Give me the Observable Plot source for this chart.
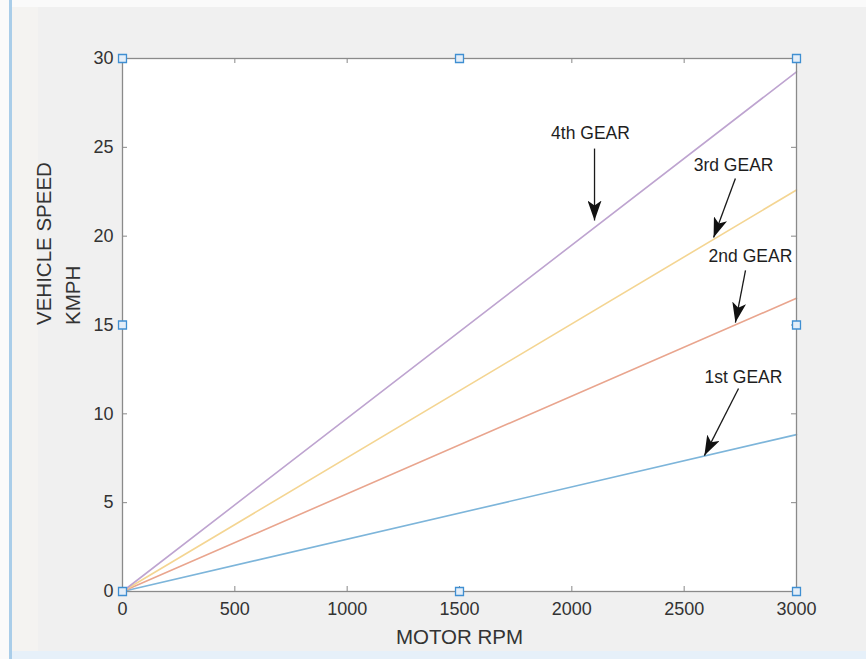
<!DOCTYPE html>
<html><head><meta charset="utf-8">
<script src="https://cdn.jsdelivr.net/npm/d3@7"></script>
<script src="https://cdn.jsdelivr.net/npm/@observablehq/plot@0.6"></script>
<style>
html,body{margin:0;padding:0;background:#fff;}
#wrap{position:relative;width:866px;height:659px;background:#f0f0f0;overflow:hidden;font-family:"Liberation Sans",Arial,sans-serif;}
.deco{position:absolute;}
#chart{position:absolute;left:0;top:0;}
</style></head>
<body>
<div id="wrap">
  <div class="deco" style="left:0;top:0;width:866px;height:7px;background:#fafafa"></div>
  <div class="deco" style="left:0;top:0;width:9px;height:659px;background:#fafafa"></div>
  <div class="deco" style="left:9px;top:0;width:3px;height:659px;background:#a9cde9"></div>
  <div class="deco" style="left:12px;top:7px;width:26px;height:644px;background:#f4f3f1"></div>
  <div class="deco" style="left:12px;top:651px;width:854px;height:8px;background:#e6f0f9"></div>
  <div id="chart"></div>
</div>
<script>
// ---- data ----
const gears = ["1st GEAR", "2nd GEAR", "3rd GEAR", "4th GEAR"];
const rpmRange = [0, 3000];
const speedStart = [0, 0, 0, 0];
const speedAt3000 = [8.83, 16.5, 22.6, 29.25];
const gearColors = ["#7db5da", "#e9a58e", "#f4d592", "#bea4d0"];
const xTicks = [0, 500, 1000, 1500, 2000, 2500, 3000];
const yTicks = [0, 5, 10, 15, 20, 25, 30];
// annotation text & arrows (data coordinates)
const labelX = [2764, 2795, 2720, 2083];
const labelY = [12.04, 18.86, 23.98, 25.78];
const arrowFromX = [2742, 2773, 2728, 2101];
const arrowFromY = [11.43, 18.07, 23.25, 24.93];
const arrowToX = [2590, 2728, 2631, 2101];
const arrowToY = [7.65, 15.14, 19.92, 20.88];
// edit-mode selection handles
const handleX = [0, 1500, 3000, 0, 3000, 0, 1500, 3000];
const handleY = [30, 30, 30, 15, 15, 0, 0, 0];

// ---- tables ----
const lineData = gears.flatMap((g, i) => [
  {gear: g, rpm: rpmRange[0], speed: speedStart[i]},
  {gear: g, rpm: rpmRange[1], speed: speedAt3000[i]}
]);
const ann = gears.map((g, i) => ({
  gear: g, lx: labelX[i], ly: labelY[i],
  x1: arrowFromX[i], y1: arrowFromY[i], x2: arrowToX[i], y2: arrowToY[i]
}));
const handles = handleX.map((x, i) => ({x, y: handleY[i]}));

const W = 866, H = 659, mL = 122, mR = 70, mT = 58, mB = 68;
const plotH = H - mT - mB, plotW = W - mL - mR;
const tickLen = 5;
const txt = "#333";

const svg = Plot.plot({
  width: W, height: H,
  marginLeft: mL, marginRight: mR, marginTop: mT, marginBottom: mB,
  style: {background: "transparent", fontFamily: "'Liberation Sans', Arial, sans-serif", fontSize: "18px", color: txt},
  x: {domain: [0, 3000]},
  y: {domain: [0, 30]},
  color: {domain: gears, range: gearColors},
  marks: [
    Plot.frame({fill: "white", stroke: null}),
    // inward ticks
    Plot.tickX(xTicks, {x: d => d, insetTop: plotH - tickLen, stroke: "#888"}),
    Plot.tickX(xTicks, {x: d => d, insetBottom: plotH - tickLen, stroke: "#888"}),
    Plot.tickY(yTicks, {y: d => d, insetRight: plotW - tickLen, stroke: "#888"}),
    Plot.tickY(yTicks, {y: d => d, insetLeft: plotW - tickLen, stroke: "#888"}),
    Plot.axisX({ticks: xTicks, tickFormat: d => String(d), tickSize: 0, tickPadding: 11, label: null, fill: txt, fontSize: 18}),
    Plot.axisY({ticks: yTicks, tickFormat: d => String(d), tickSize: 0, tickPadding: 9, label: null, fill: txt, fontSize: 18}),
    Plot.line(lineData, {x: "rpm", y: "speed", z: "gear", stroke: "gear", strokeWidth: 1.6}),
    Plot.frame({stroke: "#8a8a8a", strokeWidth: 1.3}),
    Plot.link(ann, {x1: "x1", y1: "y1", x2: "x2", y2: "y2", stroke: "#1a1a1a", strokeWidth: 1.3, className: "annarrow"}),
    Plot.text(ann, {x: "lx", y: "ly", text: "gear", fontSize: 17.5, fill: "#1e1e1e"}),
    Plot.dot(handles, {x: "x", y: "y", symbol: "square", r: 4.5, stroke: "#3f8fd2", fill: "#e4eef8", strokeWidth: 1.3}),
    Plot.text(["MOTOR RPM"], {frameAnchor: "bottom", dy: 52, fontSize: 20.5, fill: txt}),
    Plot.text(["VEHICLE SPEED\nKMPH"], {frameAnchor: "left", dx: -66, rotate: -90, fontSize: 20.5, lineHeight: 1.4, fill: txt})
  ]
});

// filled arrowheads for annotation arrows
const ns = "http://www.w3.org/2000/svg";
const defs = document.createElementNS(ns, "defs");
const marker = document.createElementNS(ns, "marker");
marker.setAttribute("id", "ahead");
marker.setAttribute("markerUnits", "userSpaceOnUse");
marker.setAttribute("markerWidth", "22");
marker.setAttribute("markerHeight", "14");
marker.setAttribute("viewBox", "0 0 22 14");
marker.setAttribute("refX", "20");
marker.setAttribute("refY", "7");
marker.setAttribute("orient", "auto");
const mp = document.createElementNS(ns, "path");
mp.setAttribute("d", "M0,0 L20,7 L0,14 L5,7 Z");
mp.setAttribute("fill", "#111");
marker.appendChild(mp);
defs.appendChild(marker);
svg.insertBefore(defs, svg.firstChild);
svg.querySelectorAll(".annarrow path").forEach(p => p.setAttribute("marker-end", "url(#ahead)"));

document.getElementById("chart").appendChild(svg);
</script>
</body></html>
